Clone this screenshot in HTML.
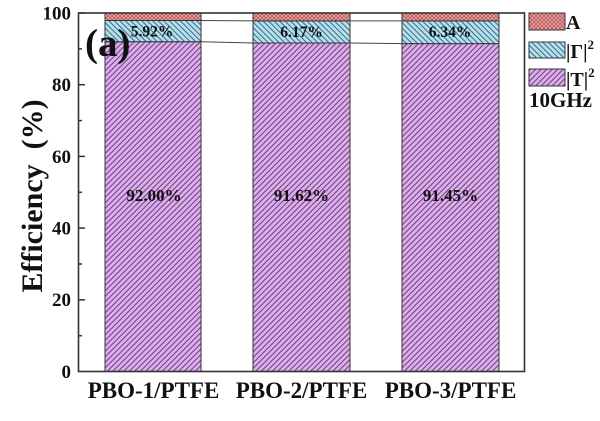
<!DOCTYPE html>
<html><head><meta charset="utf-8"><style>
html,body{margin:0;padding:0;background:#fff;}
svg{display:block;}
text{font-family:"Liberation Serif",serif;font-weight:bold;fill:#111;}
</style></head><body>
<svg width="600" height="421" viewBox="0 0 600 421" xmlns="http://www.w3.org/2000/svg">
<defs>
<pattern id="pT" patternUnits="userSpaceOnUse" width="5.5" height="5.5">
<rect width="5.5" height="5.5" fill="#e2aaf2"/>
<path d="M0,5.5 L5.5,0 M-1,1 L1,-1 M4.5,6.5 L6.5,4.5" stroke="#5e4c6a" stroke-width="1"/>
</pattern>
<pattern id="pG" patternUnits="userSpaceOnUse" width="5.5" height="5.5">
<rect width="5.5" height="5.5" fill="#b0e2f4"/>
<path d="M0,0 L5.5,5.5 M-1,4.5 L1,6.5 M4.5,-1 L6.5,1" stroke="#4a6a78" stroke-width="1"/>
</pattern>
<pattern id="pA" patternUnits="userSpaceOnUse" width="4" height="4">
<rect width="4" height="4" fill="#f4a4a4"/>
<path d="M0,0 L4,4 M0,4 L4,0" stroke="#b05a5a" stroke-width="0.8"/>
</pattern>
</defs>

<g stroke="#444" stroke-width="1" fill="none">
<line x1="201" y1="20.5" x2="253" y2="20.9"/>
<line x1="201" y1="41.7" x2="253" y2="43.0"/>
<line x1="350" y1="20.9" x2="402" y2="20.9"/>
<line x1="350" y1="43.0" x2="402" y2="43.6"/>
</g>

<g stroke="#333" stroke-width="1">
<rect x="105" y="41.7" width="96" height="329.8" fill="url(#pT)"/>
<rect x="105" y="20.5" width="96" height="21.2" fill="url(#pG)"/>
<rect x="105" y="13" width="96" height="7.5" fill="url(#pA)"/>
<rect x="253" y="43.0" width="97" height="328.5" fill="url(#pT)"/>
<rect x="253" y="20.9" width="97" height="22.1" fill="url(#pG)"/>
<rect x="253" y="13" width="97" height="7.9" fill="url(#pA)"/>
<rect x="402" y="43.6" width="97" height="327.9" fill="url(#pT)"/>
<rect x="402" y="20.9" width="97" height="22.7" fill="url(#pG)"/>
<rect x="402" y="13" width="97" height="7.9" fill="url(#pA)"/>
</g>

<rect x="78.5" y="13" width="446" height="358.5" fill="none" stroke="#333" stroke-width="1.6"/>

<g stroke="#333" stroke-width="1.5">
<line x1="78.5" y1="13" x2="85" y2="13"/>
<line x1="78.5" y1="84.7" x2="85" y2="84.7"/>
<line x1="78.5" y1="156.4" x2="85" y2="156.4"/>
<line x1="78.5" y1="228.1" x2="85" y2="228.1"/>
<line x1="78.5" y1="299.8" x2="85" y2="299.8"/>
<line x1="78.5" y1="48.9" x2="82" y2="48.9"/>
<line x1="78.5" y1="120.6" x2="82" y2="120.6"/>
<line x1="78.5" y1="192.3" x2="82" y2="192.3"/>
<line x1="78.5" y1="264" x2="82" y2="264"/>
<line x1="78.5" y1="335.7" x2="82" y2="335.7"/>
</g>

<g font-size="19" text-anchor="end">
<text x="71" y="19.5">100</text>
<text x="71" y="91">80</text>
<text x="71" y="163">60</text>
<text x="71" y="234.5">40</text>
<text x="71" y="306">20</text>
<text x="71" y="378">0</text>
</g>

<text x="42" y="0" font-size="30" text-anchor="middle" transform="translate(42,196) rotate(-90) translate(-42,0)" xml:space="preserve">Efficiency  (%)</text>

<text x="85" y="56" font-size="39">(a)</text>

<g font-size="23" text-anchor="middle">
<text x="153.5" y="398">PBO-1/PTFE</text>
<text x="301.5" y="398">PBO-2/PTFE</text>
<text x="450.5" y="398">PBO-3/PTFE</text>
</g>

<g font-size="15.5" text-anchor="middle">
<text x="152" y="36.5">5.92%</text>
<text x="301.5" y="37">6.17%</text>
<text x="450" y="37">6.34%</text>
</g>
<g font-size="17" text-anchor="middle">
<text x="154" y="201">92.00%</text>
<text x="301.5" y="201">91.62%</text>
<text x="450.5" y="201">91.45%</text>
</g>

<g stroke="#333" stroke-width="1">
<rect x="529" y="13" width="36" height="17" fill="url(#pA)"/>
<rect x="529" y="42" width="36" height="16" fill="url(#pG)"/>
<rect x="529" y="69" width="36" height="17" fill="url(#pT)"/>
</g>
<text x="566" y="29" font-size="20">A</text>
<text x="566" y="58" font-size="20">|Γ|<tspan font-size="13" dy="-9">2</tspan></text>
<text x="566" y="86" font-size="20">|T|<tspan font-size="13" dy="-9">2</tspan></text>
<text x="529" y="107" font-size="21">10GHz</text>
</svg>
</body></html>
